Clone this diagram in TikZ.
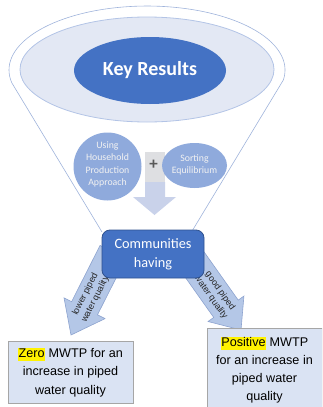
\documentclass[tikz,border=0pt]{standalone}
\usepackage{fontspec}
\setmainfont{Liberation Sans}
\newfontfamily\calib{Carlito}
\usetikzlibrary{calc,shapes.geometric}
\definecolor{funnelline}{HTML}{9FB3DB}
\definecolor{innerfill}{HTML}{E3E8F4}
\definecolor{innerline}{HTML}{B3C4E6}
\definecolor{keyblue}{HTML}{4472C4}
\definecolor{keyline}{HTML}{2F528F}
\definecolor{circfill}{HTML}{8FAADC}
\definecolor{shaftgray}{HTML}{DEDFE2}
\definecolor{downfill}{HTML}{C9D2EA}
\definecolor{arrowfill}{HTML}{B4C7E7}
\definecolor{arrowline}{HTML}{8DA3CF}
\definecolor{boxfill}{HTML}{DAE3F3}
\definecolor{boxline}{HTML}{A6A6A6}
\definecolor{plusgray}{HTML}{595959}
\tikzset{
  circtext/.style={text=white!95!black, align=center, font=\calib\fontsize{9.8}{12.3}\selectfont, inner sep=0pt},
  arrowtext/.style={text=black!85, align=center, font=\fontsize{9}{11.2}\selectfont, inner sep=0pt},
  bigarrow/.style={fill=arrowfill, draw=arrowline, line width=0.6pt, line join=miter},
  resultbox/.style={fill=boxfill, draw=boxline, line width=0.7pt},
  resulttext/.style={align=center, font=\fontsize{12.6}{18.5}\selectfont, inner sep=0pt},
}
\setlength{\fboxsep}{0.6pt}
\newcommand{\hl}[1]{\colorbox{yellow}{\vphantom{Zy}#1}}
\begin{document}
\begin{tikzpicture}[x=1pt,y=1pt]
\useasboundingbox (0,0) rectangle (322,-407);
\clip (0,0) rectangle (322,-407);
% funnel outline
\coordinate (fl) at (11.9,-83);
\coordinate (fbl) at (102,-232);
\coordinate (fbr) at (191.5,-232);
\draw[funnelline, line width=0.6pt] (fbl) -- (fl) arc[start angle=191.7, end angle=-9, x radius=138, y radius=64] -- (fbr);
% inner ellipse
\node[ellipse, draw=innerline, fill=innerfill, line width=0.8pt, minimum width=254pt, minimum height=105pt, inner sep=0pt] (inner) at (147,-69.5) {};
% key results
\node[ellipse, fill=keyblue, minimum width=152pt, minimum height=67pt, inner sep=0pt, text=white, font=\calib\bfseries\fontsize{20}{24}\selectfont] (key) at (150,-70.5) {Key Results};
% down arrow
\fill[shaftgray] (145,-152) rectangle (165,-182);
\fill[downfill] (145,-182) -- (145,-197) -- (133,-197) -- (154.5,-215) -- (176,-197) -- (165,-197) -- (165,-182) -- cycle;
% circles
\node[circle, fill=circfill, minimum size=68pt, inner sep=0pt] (hpa) at (107.5,-166.5) {};
\node[circtext] at (107.5,-164.5) {Using\\Household\\Production\\Approach};
\node[ellipse, fill=circfill, minimum width=65pt, minimum height=45pt, inner sep=0pt] (se) at (194.5,-165.5) {};
\node[circtext] at (194.5,-165) {Sorting\\Equilibrium};
\node[text=plusgray, font=\calib\bfseries\fontsize{17}{17}\selectfont, inner sep=0pt] (plus) at (153.5,-165) {+};
% left arrow
\coordinate (lt) at (113,-252);
\coordinate (lp) at (71,-335);
\coordinate (lb) at ($(lp)!30pt!(lt)$);
\path[bigarrow] ($(lt)!14.5pt!90:(lp)$) -- ($(lb)!14.5pt!90:(lp)$) -- ($(lb)!23pt!90:(lp)$) -- (lp) -- ($(lb)!23pt!-90:(lp)$) -- ($(lb)!14.5pt!-90:(lp)$) -- ($(lt)!14.5pt!-90:(lp)$) -- cycle;
\node[arrowtext, rotate=63.2] (ltext) at ($(lt)!0.54!(lp)$) {lower piped\\water quality};
% right arrow
\coordinate (rt) at (190,-258);
\coordinate (rp) at (241,-330);
\coordinate (rb) at ($(rp)!26pt!(rt)$);
\path[bigarrow] ($(rt)!15pt!90:(rp)$) -- ($(rb)!15pt!90:(rp)$) -- ($(rb)!22pt!90:(rp)$) -- (rp) -- ($(rb)!22pt!-90:(rp)$) -- ($(rb)!15pt!-90:(rp)$) -- ($(rt)!15pt!-90:(rp)$) -- cycle;
\node[arrowtext, rotate=-54.7] (rtext) at ($(rt)!0.5!(rp)$) {good piped\\water quality};
% communities box
\node[draw=keyline, fill=keyblue, line width=0.8pt, rounded corners=8pt, minimum width=102pt, minimum height=48pt, inner sep=0pt, text=white, align=center, font=\calib\fontsize{14.3}{19}\selectfont] (comm) at (153,-254) {Communities\\having};
% result boxes
\node[resultbox, minimum width=125pt, minimum height=62pt, inner sep=0pt] (zero) at (70.5,-372) {};
\node[resulttext] at (70.5,-372.5) {\hl{Zero} MWTP for an\\increase in piped\\water quality};
\node[resultbox, minimum width=114.5pt, minimum height=84pt, inner sep=0pt, anchor=north west] (pos) at (207,-328) {};
\node[resulttext, font=\fontsize{12.6}{18}\selectfont] at (264.5,-370) {\hl{Positive} MWTP\\for an increase in\\piped water\\quality};
\end{tikzpicture}
\end{document}
